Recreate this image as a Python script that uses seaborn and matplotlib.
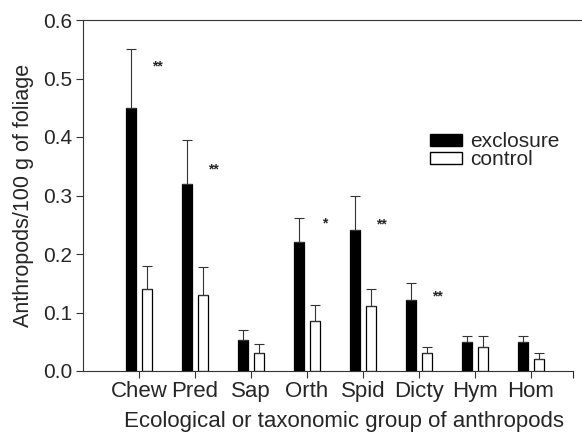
import matplotlib
matplotlib.use("Agg")
import matplotlib.pyplot as plt
import seaborn as sns
import pandas as pd
import numpy as np
from matplotlib.patches import Patch

categories = ["Chew", "Pred", "Sap", "Orth", "Spid", "Dicty", "Hym", "Hom"]
exclosure = [0.45, 0.32, 0.053, 0.221, 0.241, 0.121, 0.050, 0.050]
exclosure_top = [0.55, 0.395, 0.070, 0.261, 0.300, 0.151, 0.060, 0.060]
control = [0.14, 0.13, 0.031, 0.086, 0.111, 0.030, 0.041, 0.020]
control_top = [0.180, 0.178, 0.047, 0.112, 0.141, 0.041, 0.060, 0.030]
stars = ["**", "**", "", "*", "**", "**", "", ""]
star_y = [0.52, 0.345, 0, 0.252, 0.25, 0.128, 0, 0]
yticks = [0.0, 0.1, 0.2, 0.3, 0.4, 0.5, 0.6]

sns.set_style("ticks")
plt.rcParams["font.family"] = ["Liberation Sans", "DejaVu Sans"]

df = pd.DataFrame({
    "group": categories * 2,
    "value": exclosure + control,
    "treatment": ["exclosure"] * len(categories) + ["control"] * len(categories),
})

fig = plt.figure(figsize=(5.82, 4.33), dpi=100)
ax = fig.add_axes([83 / 582, 1 - 371 / 433, 1 - 83 / 582, (371 - 20) / 433])

sns.barplot(data=df, x="group", y="value", hue="treatment",
            order=categories, hue_order=["exclosure", "control"],
            palette={"exclosure": "black", "control": "white"},
            edgecolor="black", linewidth=0.9, width=0.6, gap=0.4,
            errorbar=None, ax=ax, legend=False)

for cont, vals, tops in zip(ax.containers, [exclosure, control], [exclosure_top, control_top]):
    xs = [p.get_x() + p.get_width() / 2 for p in cont.patches]
    lower = np.zeros(len(vals))
    upper = np.array(tops) - np.array(vals)
    ax.errorbar(xs, vals, yerr=[lower, upper], fmt="none", ecolor="#333333",
                elinewidth=0.8, capsize=3.5, capthick=0.8, zorder=1)

for i, (s, yv) in enumerate(zip(stars, star_y)):
    if s:
        ax.text(i + 0.32, yv, s, ha="center", va="center", fontsize=10, fontweight="bold")

ax.set_xlim(-1, 7.91)
ax.set_ylim(0, 0.6)
ax.set_yticks(yticks)
ax.set_yticklabels([f"{t:.1f}" for t in yticks])
ax.set_xticks(range(len(categories)))
ax.set_xticklabels(categories)
ax.set_xticks([7.75], minor=True)
ax.tick_params(axis="both", length=5, width=0.8, direction="out", color="#333333")
ax.tick_params(axis="y", labelsize=15, pad=3)
ax.tick_params(axis="x", labelsize=16, pad=2)
ax.tick_params(axis="x", which="minor", length=5, width=0.8)

for side in ["left", "bottom", "top"]:
    ax.spines[side].set_linewidth(0.8)
    ax.spines[side].set_color("#333333")
ax.spines["right"].set_visible(False)
ax.spines["bottom"].set_bounds(-1, 7.75)

ax.set_xlabel("Ecological or taxonomic group of anthropods", fontsize=16)
ax.xaxis.set_label_coords(0.523, -0.113)
ax.set_ylabel("Anthropods/100 g of foliage", fontsize=15.5, labelpad=6)

handles = [Patch(facecolor="black", edgecolor="black", label="exclosure"),
           Patch(facecolor="white", edgecolor="black", label="control")]
ax.legend(handles=handles, loc="upper left", bbox_to_anchor=(0.695, 0.68), frameon=False,
          fontsize=15, handlelength=1.55, handleheight=0.5, handletextpad=0.4,
          labelspacing=-0.05, borderpad=0, borderaxespad=0)

fig.savefig("out.png", dpi=100)
